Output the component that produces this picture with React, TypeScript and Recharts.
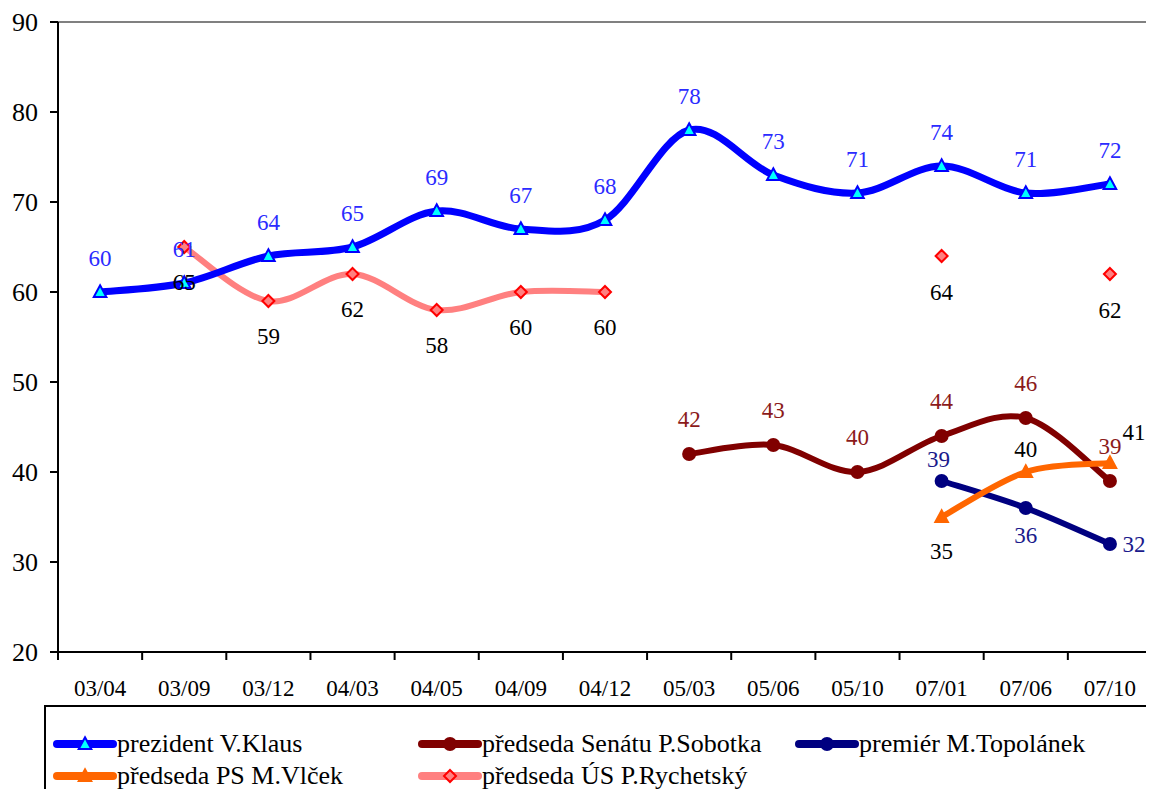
import React from 'react'
import {
  LineChart,
  Line,
  XAxis,
  YAxis,
  LabelList
} from 'recharts'

const categories = ['03/04', '03/09', '03/12', '04/03', '04/05', '04/09', '04/12', '05/03', '05/06', '05/10', '07/01', '07/06', '07/10']
const klaus = [60, 61, 64, 65, 69, 67, 68, 78, 73, 71, 74, 71, 72]
const sobotka = [null, null, null, null, null, null, null, 42, 43, 40, 44, 46, 39]
const topolanek = [null, null, null, null, null, null, null, null, null, null, 39, 36, 32]
const vlcek = [null, null, null, null, null, null, null, null, null, null, 35, 40, 41]
const rychetsky = [null, 65, 59, 62, 58, 60, 60, null, null, null, 64, null, 62]
const yTicks = [20, 30, 40, 50, 60, 70, 80, 90]

const data = categories.map((cat, i) => ({
  cat,
  klaus: klaus[i],
  sobotka: sobotka[i],
  topolanek: topolanek[i],
  vlcek: vlcek[i],
  rychetsky: rychetsky[i]
}))

const FONT = '"Liberation Serif", "Times New Roman", "DejaVu Serif", serif'
const W = 1146
const H = 781
const PLOT_W = 1094
const BW = PLOT_W / categories.length

// smooth curve like the spreadsheet one (catmull-rom through the points)
function smoothCurve (context: any) {
  let pts: number[][] = []
  return {
    areaStart () {},
    areaEnd () {},
    lineStart () { pts = [] },
    point (x: number, y: number) { pts.push([+x, +y]) },
    lineEnd () {
      const n = pts.length
      if (!n) return
      context.moveTo(pts[0][0], pts[0][1])
      if (n === 1) { context.lineTo(pts[0][0], pts[0][1]); return }
      for (let i = 0; i < n - 1; i++) {
        const p0 = pts[i - 1] || pts[i]
        const p1 = pts[i]
        const p2 = pts[i + 1]
        const p3 = pts[i + 2] || pts[i + 1]
        context.bezierCurveTo(
          p1[0] + (p2[0] - p0[0]) / 6, p1[1] + (p2[1] - p0[1]) / 6,
          p2[0] - (p3[0] - p1[0]) / 6, p2[1] - (p3[1] - p1[1]) / 6,
          p2[0], p2[1]
        )
      }
    }
  }
}

const triangle = (cx: number, cy: number, s: number, fill: string, stroke: string, key?: any) => (
  <path key={key} d={`M${cx},${cy - s * 0.75}L${cx + s * 0.7},${cy + s * 0.55}L${cx - s * 0.7},${cy + s * 0.55}Z`} fill={fill} stroke={stroke} strokeWidth={2} />
)
const diamond = (cx: number, cy: number, s: number, key?: any) => (
  <path key={key} d={`M${cx},${cy - s}L${cx + s},${cy}L${cx},${cy + s}L${cx - s},${cy}Z`} fill="#FF8080" stroke="#FF0000" strokeWidth={2} />
)

const dotFn = (kind: string, color: string) => (p: any) => {
  const k = `${kind}-${p.index}`
  if (p.cx == null || p.cy == null || p.value == null || (Array.isArray(p.value) && p.value[1] == null)) return <g key={k} />
  if (kind === 'tri') return triangle(p.cx, p.cy, 9, '#00FFFF', '#0000FF', k)
  if (kind === 'otri') return triangle(p.cx, p.cy, 9, '#FF6600', '#FF6600', k)
  if (kind === 'dia') return diamond(p.cx, p.cy, 6, k)
  return <circle key={k} cx={p.cx} cy={p.cy} r={7} fill={color} />
}

// label offsets per point index
const labelFn = (color: string, offsets: Record<number, number[]>, def: number[]) => (p: any) => {
  if (p.value == null) return null
  const [dx, dy] = offsets[p.index] || def
  return (
    <text x={p.x + dx} y={p.y + dy} textAnchor="middle" dominantBaseline="central" fill={color} fontFamily={FONT} fontSize={23}>
      {p.value}
    </text>
  )
}

const XTick = (props: any) => {
  const { x, y, payload, index } = props
  return (
    <g>
      <line x1={x - BW / 2} y1={y} x2={x - BW / 2} y2={y + 8} stroke="#000" strokeWidth={2} />
      {index === categories.length - 1 && <line x1={x + BW / 2} y1={y} x2={x + BW / 2} y2={y + 8} stroke="#000" strokeWidth={2} />}
      <text x={x} y={y + 36} textAnchor="middle" dominantBaseline="central" fontFamily={FONT} fontSize={23} fill="#000">{payload.value}</text>
    </g>
  )
}

const legendItems = [
  { name: 'prezident V.Klaus', color: '#0000FF', marker: 'tri', left: 7, top: 37 },
  { name: 'předseda Senátu P.Sobotka', color: '#800000', marker: 'circle', left: 372, top: 37 },
  { name: 'premiér M.Topolánek', color: '#000080', marker: 'circle', left: 749, top: 37 },
  { name: 'předseda PS M.Vlček', color: '#FF6600', marker: 'otri', left: 7, top: 69 },
  { name: 'předseda ÚS P.Rychetský', color: '#FF8080', marker: 'dia', left: 372, top: 69 }
]

function LegendIcon ({ color, marker }: { color: string, marker: string }) {
  return (
    <svg width={64} height={20} style={{ display: 'block' }}>
      <line x1={4} y1={10} x2={60} y2={10} stroke={color} strokeWidth={8} strokeLinecap="round" />
      {marker === 'tri' && triangle(32, 10, 9, '#00FFFF', '#0000FF')}
      {marker === 'otri' && triangle(32, 10, 9, '#FF6600', '#FF6600')}
      {marker === 'dia' && diamond(32, 10, 6)}
      {marker === 'circle' && <circle cx={32} cy={10} r={7} fill={color} />}
    </svg>
  )
}

export default function App () {
  return (
    <div style={{ position: 'relative', width: W, height: H, overflow: 'hidden', fontFamily: FONT }}>
      {/* plot frame: grey top and right edges */}
      <div style={{ position: 'absolute', left: 50, top: 13, width: 1093, height: 631, borderTop: '2px solid #808080', borderRight: '2px solid #808080' }} />
      <LineChart width={W} height={H} data={data} margin={{ top: 14, right: 2, left: 0, bottom: 87 }} style={{ position: 'relative', overflow: 'visible' }}>
        <XAxis
          dataKey="cat"
          padding={{ left: BW / 2, right: BW / 2 }}
          axisLine={{ stroke: '#000', strokeWidth: 2 }}
          tickLine={false}
          tickSize={0}
          tickMargin={0}
          height={50}
          interval={0}
          tick={<XTick />}
        />
        <YAxis
          domain={[20, 90]}
          ticks={yTicks}
          width={50}
          axisLine={{ stroke: '#000', strokeWidth: 2 }}
          tickLine={{ stroke: '#000', strokeWidth: 2 }}
          tickSize={8}
          tickMargin={12}
          tick={{ fill: '#000', fontFamily: FONT, fontSize: 26 }}
          interval={0}
        />
        <Line dataKey="rychetsky" type={smoothCurve as any} stroke="#FF8080" strokeWidth={6} dot={dotFn('dia', '#FF8080')} activeDot={false} isAnimationActive={false}>
          <LabelList dataKey="rychetsky" content={labelFn('#000', { 1: [0, 35], 10: [0, 36], 12: [0, 36] }, [0, 35])} />
        </Line>
        <Line dataKey="klaus" type={smoothCurve as any} stroke="#0000FF" strokeWidth={7} dot={dotFn('tri', '#0000FF')} activeDot={false} isAnimationActive={false}>
          <LabelList dataKey="klaus" content={labelFn('#2B2BFF', {}, [0, -34])} />
        </Line>
        <Line dataKey="sobotka" type={smoothCurve as any} stroke="#800000" strokeWidth={6} dot={dotFn('circle', '#800000')} activeDot={false} isAnimationActive={false}>
          <LabelList dataKey="sobotka" content={labelFn('#8B1A1A', {}, [0, -35])} />
        </Line>
        <Line dataKey="topolanek" type={smoothCurve as any} stroke="#000080" strokeWidth={6} dot={dotFn('circle', '#000080')} activeDot={false} isAnimationActive={false}>
          <LabelList dataKey="topolanek" content={labelFn('#1A1A8C', { 10: [-3, -22], 11: [0, 27], 12: [24, 0] }, [0, -30])} />
        </Line>
        <Line dataKey="vlcek" type={smoothCurve as any} stroke="#FF6600" strokeWidth={6} dot={dotFn('otri', '#FF6600')} activeDot={false} isAnimationActive={false}>
          <LabelList dataKey="vlcek" content={labelFn('#000', { 10: [0, 34], 11: [0, -23], 12: [24, -31] }, [0, -30])} />
        </Line>
      </LineChart>
      <div style={{ position: 'absolute', left: 36, top: 697, width: 1106, height: 120, border: '2px solid #000', background: '#fff' }}>
        {legendItems.map(it => (
          <div key={it.name} style={{ position: 'absolute', left: it.left, top: it.top - 15, height: 30, display: 'flex', alignItems: 'center', whiteSpace: 'nowrap' }}>
            <LegendIcon color={it.color} marker={it.marker} />
            <span style={{ fontSize: 26, marginLeft: 0, color: '#000', lineHeight: '30px' }}>{it.name}</span>
          </div>
        ))}
      </div>
    </div>
  )
}
